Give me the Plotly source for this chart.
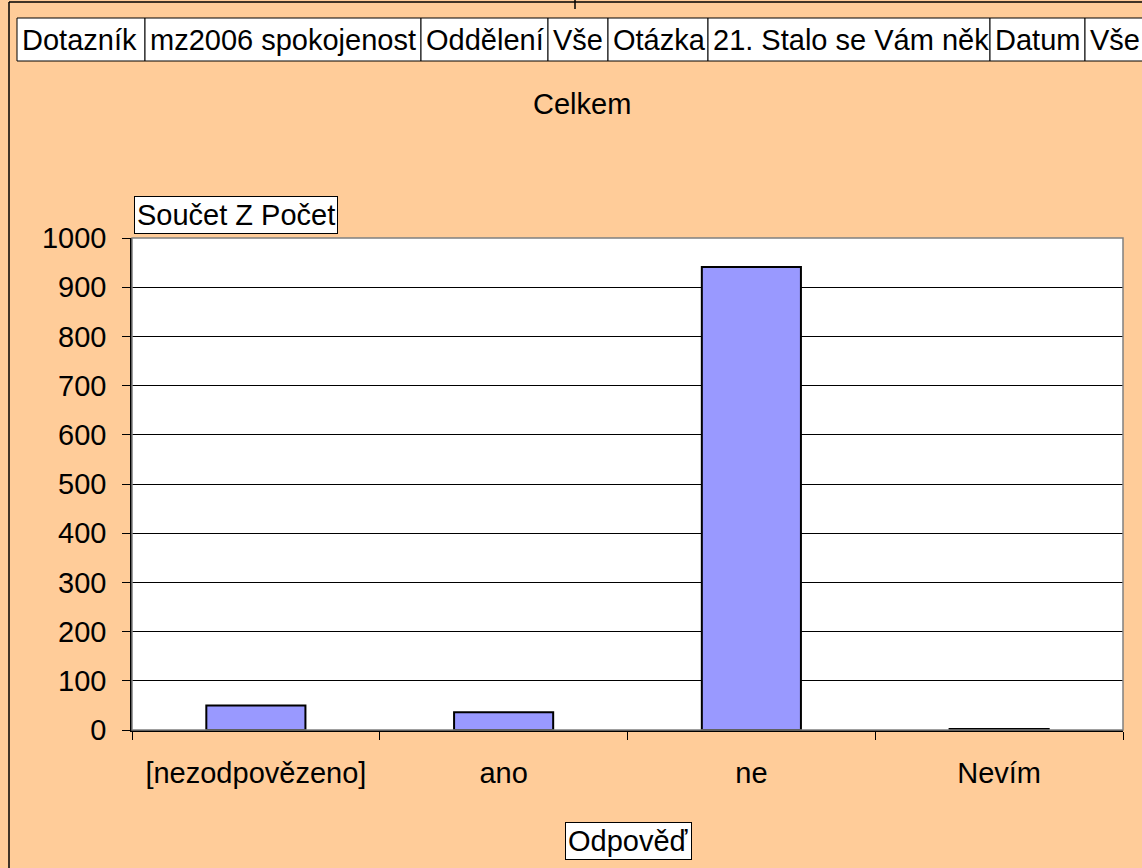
import plotly.graph_objects as go

categories = ["[nezodpovězeno]", "ano", "ne", "Nevím"]
values = [50, 36, 941, 2]
header_labels = ["Dotazník", "mz2006 spokojenost", "Oddělení", "Vše", "Otázka",
                 "21. Stalo se Vám něk", "Datum", "Vše"]
header_edges = [17, 145, 421, 548, 608, 708, 990, 1085, 1160]

W, H = 1142, 868
L, R, T, B = 132, 19, 238, 138
PW, PH = W - L - R, H - T - B
FONT = "Liberation Sans, Arial, sans-serif"
FS = 29


def px(x):
    return (x - L) / PW


def py(y):
    return (H - B - y) / PH


fig = go.Figure()
fig.add_trace(go.Bar(
    x=categories, y=values,
    marker=dict(color="#9999FF", line=dict(color="black", width=2)),
    width=0.4,
))

shapes = []
annotations = []

# outer frame
shapes.append(dict(type="line", xref="paper", yref="paper", x0=px(9), x1=px(9), y0=py(2), y1=py(H + 5),
                   line=dict(color="black", width=1.5)))
shapes.append(dict(type="line", xref="paper", yref="paper", x0=px(9), x1=px(W + 5), y0=py(2), y1=py(2),
                   line=dict(color="black", width=1.5)))
shapes.append(dict(type="line", xref="paper", yref="paper", x0=px(575), x1=px(575), y0=py(0), y1=py(9),
                   line=dict(color="black", width=1.5)))

# plot area border (grey top/right)
shapes.append(dict(type="rect", xref="paper", yref="paper", x0=0, x1=1, y0=0, y1=1,
                   line=dict(color="#808080", width=1.5), layer="above"))

# header boxes
for i, lab in enumerate(header_labels):
    x0, x1 = header_edges[i], header_edges[i + 1]
    shapes.append(dict(type="rect", xref="paper", yref="paper", x0=px(x0), x1=px(x1), y0=py(61), y1=py(18),
                       line=dict(color="black", width=1), fillcolor="white", layer="above"))
    annotations.append(dict(text=lab, xref="paper", yref="paper", x=px(x0 + 3), y=py(40),
                            xanchor="left", yanchor="middle", showarrow=False,
                            font=dict(family=FONT, size=FS, color="black")))

# title
annotations.append(dict(text="Celkem", xref="paper", yref="paper", x=px(582), y=py(104),
                        xanchor="center", yanchor="middle", showarrow=False,
                        font=dict(family=FONT, size=FS, color="black")))

# y axis title box
annotations.append(dict(text="Součet Z Počet", xref="paper", yref="paper", x=px(236), y=py(215),
                        xanchor="center", yanchor="middle", showarrow=False,
                        bgcolor="white", bordercolor="black", borderwidth=1, borderpad=2,
                        font=dict(family=FONT, size=FS, color="black")))

# x axis title box
annotations.append(dict(text="Odpověď", xref="paper", yref="paper", x=px(628), y=py(841),
                        xanchor="center", yanchor="middle", showarrow=False,
                        bgcolor="white", bordercolor="black", borderwidth=1, borderpad=2,
                        font=dict(family=FONT, size=FS, color="black")))

fig.update_layout(
    width=W, height=H,
    margin=dict(l=L, r=R, t=T, b=B),
    paper_bgcolor="#FFCC99",
    plot_bgcolor="white",
    showlegend=False,
    font=dict(family=FONT, size=FS, color="black"),
    shapes=shapes,
    annotations=annotations,
    xaxis=dict(
        type="category", categoryorder="array", categoryarray=categories,
        tickson="boundaries", ticks="outside", ticklen=8, tickcolor="black",
        showline=True, linecolor="black", linewidth=1.5,
        showgrid=False, ticklabelstandoff=16,
        tickfont=dict(family=FONT, size=FS, color="black"),
    ),
    yaxis=dict(
        range=[0, 1000], dtick=100, ticks="outside", ticklen=8, tickcolor="black",
        showline=True, linecolor="black", linewidth=1.5,
        showgrid=True, gridcolor="black", gridwidth=1,
        zeroline=False, ticklabelstandoff=10,
        tickfont=dict(family=FONT, size=FS, color="black"),
    ),
)

fig.write_html(
    "out.html",
    config={"displayModeBar": False},
    post_script="document.body.style.margin='0';document.body.style.padding='0';"
                "document.body.style.overflow='hidden';",
)
